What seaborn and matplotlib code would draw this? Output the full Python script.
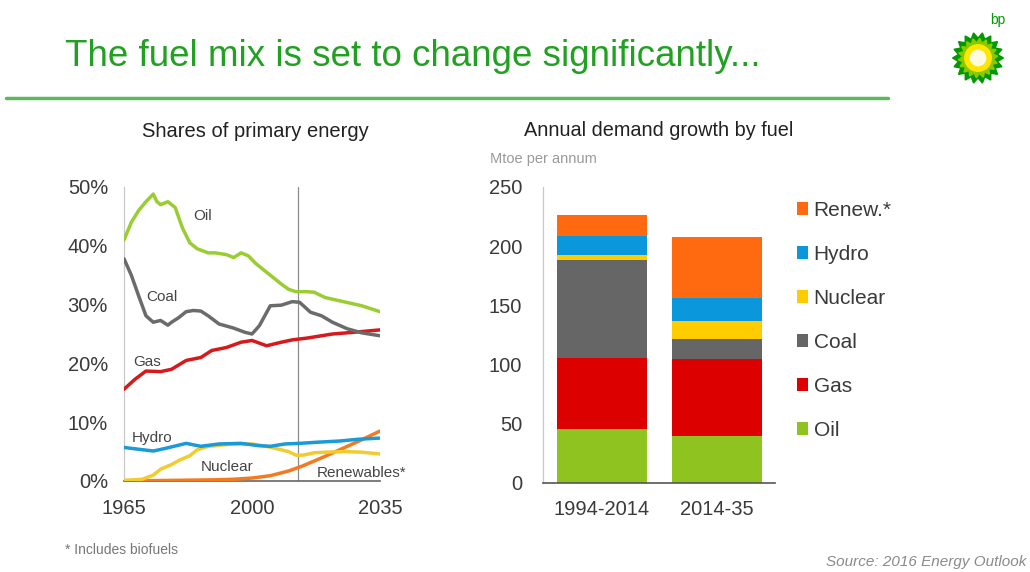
import numpy as np
import pandas as pd
import matplotlib
matplotlib.use("Agg")
import matplotlib.pyplot as plt
from matplotlib.patches import Patch, Polygon, Circle
import seaborn as sns

sns.set_theme(style="white")
plt.rcParams["font.family"] = ["Liberation Sans", "DejaVu Sans"]

# ---- Shares of primary energy (%), by fuel ----
oil_years = [1965, 1967, 1969, 1971, 1973, 1974, 1975, 1977, 1979, 1981, 1983, 1985, 1988, 1990,
             1993, 1995, 1997, 1999, 2001, 2003, 2005, 2008, 2010, 2012, 2015, 2017, 2020, 2025,
             2030, 2035]
oil_share = [41.0, 44.0, 46.0, 47.5, 48.8, 47.5, 47.0, 47.5, 46.5, 43.0, 40.5, 39.5, 38.8, 38.8,
             38.5, 38.0, 38.8, 38.3, 37.0, 36.0, 35.0, 33.5, 32.6, 32.2, 32.2, 32.1, 31.2, 30.5,
             29.8, 28.8]

coal_years = [1965, 1967, 1969, 1971, 1973, 1975, 1977, 1978, 1980, 1982, 1984, 1986, 1988, 1991,
              1995, 1998, 2000, 2002, 2005, 2008, 2011, 2013, 2016, 2019, 2022, 2026, 2030, 2035]
coal_share = [37.8, 35.0, 31.5, 28.1, 27.0, 27.3, 26.5, 27.0, 27.8, 28.8, 29.0, 28.9, 28.1, 26.7,
              26.0, 25.3, 25.0, 26.4, 29.8, 29.9, 30.5, 30.4, 28.7, 28.1, 27.0, 25.9, 25.2, 24.7]

gas_years = [1965, 1968, 1971, 1975, 1978, 1982, 1986, 1989, 1993, 1997, 2000, 2004, 2008, 2011,
             2015, 2019, 2022, 2028, 2035]
gas_share = [15.6, 17.3, 18.7, 18.6, 19.0, 20.5, 21.0, 22.2, 22.7, 23.6, 23.9, 23.0, 23.6, 24.0,
             24.3, 24.7, 25.0, 25.3, 25.7]

hydro_years = [1965, 1969, 1973, 1976, 1982, 1986, 1991, 1997, 2002, 2005, 2009, 2013, 2018, 2024,
               2029, 2035]
hydro_share = [5.7, 5.4, 5.1, 5.5, 6.4, 5.9, 6.3, 6.4, 6.0, 5.9, 6.3, 6.4, 6.6, 6.8, 7.1, 7.3]

nuclear_years = [1965, 1970, 1973, 1975, 1978, 1980, 1983, 1985, 1988, 1990, 1995, 2000, 2003,
                 2006, 2010, 2012, 2014, 2017, 2020, 2025, 2030, 2035]
nuclear_share = [0.1, 0.3, 1.0, 2.0, 2.8, 3.5, 4.3, 5.3, 5.9, 6.0, 6.3, 6.3, 6.0, 5.6, 5.0, 4.4,
                 4.4, 4.8, 4.9, 5.0, 4.9, 4.6]

renew_years = [1965, 1990, 1995, 2000, 2005, 2010, 2014, 2020, 2025, 2030, 2035]
renew_share = [0.0, 0.2, 0.3, 0.5, 0.9, 1.7, 2.6, 4.2, 5.6, 7.0, 8.5]

# boundary between history and projection
divider_year = 2012.5

# ---- Annual demand growth by fuel (Mtoe per annum) ----
periods = ["1994-2014", "2014-35"]
growth_oil = [45.5, 40.0]
growth_gas = [60.0, 65.0]
growth_coal = [83.0, 17.0]
growth_nuclear = [4.0, 15.0]
growth_hydro = [16.0, 19.0]
growth_renew = [18.0, 52.0]

line_colors = {"Oil": "#9acd32", "Coal": "#6b6b6b", "Gas": "#d7191c", "Hydro": "#1a9ad6",
               "Nuclear": "#f2cc2e", "Renewables": "#f47a20"}
bar_colors = {"Oil": "#8fc31f", "Gas": "#dd0000", "Coal": "#666666", "Nuclear": "#ffcc00",
              "Hydro": "#0a97dc", "Renew.*": "#ff6a10"}
text_dark = "#3a3a3a"

W, H = 1030, 572
fig = plt.figure(figsize=(W / 100, H / 100), dpi=100)
fig.patch.set_facecolor("white")


def fx(px):
    return px / W


def fy(py):
    return 1 - py / H


# ---- header ----
fig.text(fx(65), fy(56), "The fuel mix is set to change significantly...", color="#22a022",
         fontsize=26.5, ha="left", va="center")
fig.add_artist(plt.Line2D([fx(6), fx(888)], [fy(98), fy(98)], color="#5cb85c", lw=2.5))

# bp helios mark
logo = fig.add_axes([fx(950), fy(88), fx(56), fy(28) - fy(88)])
logo.set_xlim(-1.1, 1.1)
logo.set_ylim(-1.1, 1.1)
logo.set_aspect("equal")
logo.axis("off")
n = 18
ang = np.linspace(0, 2 * np.pi, 2 * n, endpoint=False)
rad = np.where(np.arange(2 * n) % 2 == 0, 1.0, 0.78)
logo.add_patch(Polygon(np.c_[rad * np.cos(ang), rad * np.sin(ang)], closed=True, color="#009a00"))
rad2 = np.where(np.arange(2 * n) % 2 == 0, 0.78, 0.6)
logo.add_patch(Polygon(np.c_[rad2 * np.cos(ang + 0.09), rad2 * np.sin(ang + 0.09)], closed=True,
                       color="#8cc800"))
logo.add_patch(Circle((0, 0), 0.52, color="#ffe600"))
logo.add_patch(Circle((0, 0), 0.3, color="#fffbe0"))
fig.text(fx(998), fy(20), "bp", color="#009a00", fontsize=10, ha="center", va="center")

# ---- left: shares of primary energy ----
frames = []
for name, yrs, vals in [("Oil", oil_years, oil_share), ("Coal", coal_years, coal_share),
                        ("Gas", gas_years, gas_share), ("Hydro", hydro_years, hydro_share),
                        ("Nuclear", nuclear_years, nuclear_share),
                        ("Renewables", renew_years, renew_share)]:
    frames.append(pd.DataFrame({"year": yrs, "share": vals, "fuel": name}))
shares = pd.concat(frames, ignore_index=True)

ax1 = fig.add_axes([fx(124), fy(481), fx(380) - fx(124), fy(187) - fy(481)])
ax1.axvline(divider_year, color="#8c8c8c", lw=0.9, zorder=1)
sns.lineplot(data=shares, x="year", y="share", hue="fuel", palette=line_colors,
             hue_order=["Renewables", "Nuclear", "Hydro", "Gas", "Coal", "Oil"],
             linewidth=2.5, legend=False, ax=ax1, zorder=3)
ax1.set_xlim(1965, 2035)
ax1.set_ylim(0, 50)
ax1.set_xticks([1965, 2000, 2035])
ax1.set_yticks([0, 10, 20, 30, 40, 50])
ax1.set_yticklabels([f"{v}%" for v in [0, 10, 20, 30, 40, 50]])
ax1.set_xlabel("")
ax1.set_ylabel("")
ax1.tick_params(axis="both", length=0, labelsize=14.5, colors=text_dark)
ax1.tick_params(axis="y", pad=11.5)
ax1.tick_params(axis="x", pad=13)
for s in ["top", "right"]:
    ax1.spines[s].set_visible(False)
ax1.spines["left"].set_color("#c8c8c8")
ax1.spines["bottom"].set_color("#666666")
ax1.spines["left"].set_linewidth(0.9)
ax1.spines["bottom"].set_linewidth(1.2)
lbl = dict(fontsize=11, color="#444444", ha="center", va="center")
ax1.text(1986.6, 45.0, "Oil", **lbl)
ax1.text(1975.4, 31.3, "Coal", **lbl)
ax1.text(1971.2, 20.3, "Gas", **lbl)
ax1.text(1972.6, 7.3, "Hydro", **lbl)
ax1.text(1993.1, 2.4, "Nuclear", **lbl)
ax1.text(2030.0, 1.4, "Renewables*", **lbl)
fig.text(fx(255), fy(131.5), "Shares of primary energy", fontsize=14.5, color="#222222",
         ha="center", va="center")

# ---- right: annual demand growth, stacked ----
ax2 = fig.add_axes([fx(543), fy(483), fx(775) - fx(543), fy(187) - fy(483)])
layers = [("Oil", growth_oil), ("Gas", growth_gas), ("Coal", growth_coal),
          ("Nuclear", growth_nuclear), ("Hydro", growth_hydro), ("Renew.*", growth_renew)]
cum = np.cumsum(np.array([v for _, v in layers]), axis=0)
for i in range(len(layers) - 1, -1, -1):
    name = layers[i][0]
    sns.barplot(x=periods, y=cum[i], color=bar_colors[name], saturation=1, width=0.78,
                linewidth=0, ax=ax2, zorder=2)
ax2.set_xlim(-0.51, 1.5)
ax2.set_ylim(0, 250)
ax2.set_yticks([0, 50, 100, 150, 200, 250])
ax2.tick_params(axis="both", length=0, labelsize=14.5, colors=text_dark)
ax2.tick_params(axis="y", pad=15)
ax2.tick_params(axis="x", pad=12)
ax2.set_xlabel("")
ax2.set_ylabel("")
for s in ["top", "right"]:
    ax2.spines[s].set_visible(False)
ax2.spines["left"].set_color("#c8c8c8")
ax2.spines["left"].set_linewidth(0.9)
ax2.spines["bottom"].set_color("#555555")
ax2.spines["bottom"].set_linewidth(1.2)
fig.text(fx(659), fy(131), "Annual demand growth by fuel", fontsize=14.3, color="#222222",
         ha="center", va="center")
fig.text(fx(490), fy(159), "Mtoe per annum", fontsize=10.5, color="#9a9a9a", ha="left",
         va="center")

handles = [Patch(facecolor=bar_colors[n], edgecolor="none", label=n) for n, _ in layers[::-1]]
leg = fig.legend(handles=handles, loc="upper left", bbox_to_anchor=(fx(797), fy(201)),
                 frameon=False, fontsize=15, handlelength=0.55, handleheight=0.55,
                 handletextpad=0.25, labelspacing=1.2, borderaxespad=0, borderpad=0)
for t in leg.get_texts():
    t.set_color(text_dark)

# ---- footer ----
fig.text(fx(65), fy(550), "* Includes biofuels", fontsize=10, color="#777777", ha="left",
         va="center")
fig.text(fx(1026), fy(562), "Source: 2016 Energy Outlook", fontsize=11, color="#8a8a8a",
         style="italic", ha="right", va="center")

fig.savefig("out.png", dpi=100, facecolor="white")
